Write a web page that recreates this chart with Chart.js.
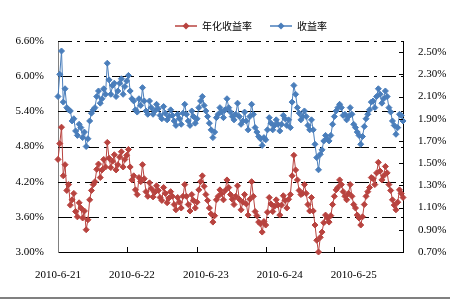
<!DOCTYPE html>
<html>
<head>
<meta charset="utf-8">
<script src="https://cdn.jsdelivr.net/npm/chart.js@4.4.0/dist/chart.umd.min.js"></script>
<style>
  html, body { margin: 0; padding: 0; background: #fff; }
  #wrap { width: 450px; height: 297px; border-bottom: 2px solid #808080; }
</style>
</head>
<body>
<div id="wrap"><canvas id="myChart"></canvas></div>
<script>
// Series, one point every ~1.76 px (40 per day)
const annualYield = [ // 年化收益率, left axis (%)
    4.58, 4.85, 5.13, 4.30, 4.49, 4.05, 4.15, 3.80, 3.89, 4.00,
    3.69, 3.60, 3.84, 3.75, 3.58, 3.70, 3.38, 3.55, 3.89, 4.05,
    4.15, 4.20, 4.41, 4.50, 4.27, 4.40, 4.58, 4.45, 4.87, 4.60,
    4.44, 4.55, 4.66, 4.40, 4.49, 4.62, 4.71, 4.45, 4.58, 4.65,
    4.75, 4.45, 4.23, 4.30, 4.06, 3.98, 4.27, 4.20, 4.49, 4.25,
    4.03, 3.95, 4.18, 4.08, 3.94, 4.02, 4.13, 4.05, 3.93, 3.88,
    4.10, 4.00, 3.84, 3.92, 4.03, 3.95, 3.81, 3.72, 3.93, 3.85,
    3.75, 3.95, 4.15, 3.95, 3.81, 3.70, 3.98, 3.88, 3.75, 3.85,
    4.06, 4.20, 4.30, 4.12, 3.98, 3.88, 3.75, 3.65, 3.51, 3.62,
    3.89, 3.95, 4.06, 4.00, 3.89, 4.05, 4.23, 4.10, 3.98, 3.90,
    3.81, 3.95, 4.13, 3.90, 3.72, 3.85, 3.98, 3.82, 3.63, 3.90,
    4.20, 3.95, 3.69, 3.62, 3.51, 3.48, 3.34, 3.52, 3.46, 3.68,
    3.93, 3.82, 3.69, 3.78, 3.89, 3.80, 3.63, 3.80, 3.96, 3.88,
    3.75, 3.90, 3.98, 4.30, 4.65, 4.40, 4.23, 4.05, 3.98, 4.00,
    4.15, 4.00, 3.81, 3.70, 3.93, 3.70, 3.46, 3.20, 3.00, 3.25,
    3.34, 3.50, 3.63, 3.58, 3.51, 3.62, 3.81, 3.95, 4.06, 4.10,
    4.23, 4.15, 4.03, 3.95, 3.89, 4.00, 4.15, 3.95, 3.81, 3.75,
    3.63, 3.58, 3.46, 3.60, 3.81, 3.95, 4.03, 4.10, 4.27, 4.25,
    4.15, 4.35, 4.53, 4.38, 4.23, 4.30, 4.46, 4.35, 4.15, 4.05,
    3.89, 3.80, 3.72, 3.85, 4.06, 4.00, 3.93
];
const yieldRate = [ // 收益率, right axis (%)
    2.10, 2.30, 2.51, 2.05, 2.17, 2.00, 1.98, 1.97, 1.88, 1.90,
    1.79, 1.75, 1.85, 1.82, 1.73, 1.78, 1.65, 1.72, 1.88, 1.95,
    1.98, 2.00, 2.10, 2.15, 2.04, 2.08, 2.17, 2.12, 2.40, 2.25,
    2.12, 2.20, 2.22, 2.10, 2.15, 2.22, 2.26, 2.12, 2.19, 2.24,
    2.29, 2.15, 2.08, 2.06, 1.98, 1.96, 2.08, 2.02, 2.18, 2.06,
    1.97, 1.94, 2.06, 2.00, 1.94, 1.97, 2.03, 1.99, 1.93, 1.90,
    2.01, 1.95, 1.89, 1.92, 1.98, 1.93, 1.88, 1.84, 1.94, 1.90,
    1.85, 1.95, 2.03, 1.94, 1.88, 1.84, 1.97, 1.92, 1.86, 1.90,
    2.00, 2.06, 2.10, 2.02, 1.97, 1.92, 1.86, 1.80, 1.73, 1.78,
    1.91, 1.94, 2.00, 1.96, 1.91, 1.98, 2.08, 2.00, 1.96, 1.92,
    1.89, 1.94, 2.04, 1.92, 1.85, 1.88, 1.96, 1.88, 1.80, 1.92,
    2.03, 1.94, 1.82, 1.78, 1.74, 1.72, 1.66, 1.73, 1.71, 1.80,
    1.91, 1.86, 1.80, 1.84, 1.89, 1.85, 1.79, 1.85, 1.93, 1.90,
    1.84, 1.89, 1.82, 2.05, 2.20, 2.12, 2.00, 1.95, 1.89, 1.92,
    1.97, 1.92, 1.84, 1.80, 1.89, 1.80, 1.67, 1.55, 1.44, 1.58,
    1.62, 1.70, 1.75, 1.72, 1.70, 1.75, 1.85, 1.92, 1.97, 2.00,
    2.03, 2.00, 1.93, 1.94, 1.89, 1.92, 2.00, 1.94, 1.85, 1.82,
    1.78, 1.75, 1.67, 1.74, 1.83, 1.90, 1.94, 1.98, 2.05, 2.06,
    2.00, 2.10, 2.17, 2.12, 2.04, 2.08, 2.15, 2.10, 2.00, 1.96,
    1.88, 1.84, 1.76, 1.82, 1.94, 1.93, 1.88
];

// Axis labels and ticks
const dayLabels = ['2010-6-21', '2010-6-22', '2010-6-23', '2010-6-24', '2010-6-25'];
const dayLabelIndex = [0, 42, 84, 126, 168];
const dayTickIndex = [39, 79, 118, 157];
const leftTicks = [3.0, 3.6, 4.2, 4.8, 5.4, 6.0, 6.6];
const rightTicks = [0.7, 0.9, 1.1, 1.3, 1.5, 1.7, 1.9, 2.1, 2.3, 2.5];

const RED = '#B8433F';
const BLUE = '#4A7EBB';
const tickFont = { family: "'Liberation Serif', serif", size: 11 };

// category labels: date text only at the labelled points
const categories = annualYield.map((v, i) => {
    const k = dayLabelIndex.indexOf(i);
    return k >= 0 ? dayLabels[k] : '';
});

// legend marker: short line with a diamond, like the spreadsheet legend
function legendMarker(color) {
    const c = document.createElement('canvas');
    c.width = 22;
    c.height = 8;
    const g = c.getContext('2d');
    g.strokeStyle = color;
    g.lineWidth = 1.5;
    g.beginPath();
    g.moveTo(0, 4);
    g.lineTo(22, 4);
    g.stroke();
    g.fillStyle = color;
    g.beginPath();
    g.moveTo(11, 0.5);
    g.lineTo(14.5, 4);
    g.lineTo(11, 7.5);
    g.lineTo(7.5, 4);
    g.closePath();
    g.fill();
    return c;
}

// dash-dot grid lines and tick marks that point into the plot area
const gridAndTicks = {
    id: 'gridAndTicks',
    beforeDatasetsDraw(chart) {
        const { ctx, chartArea, scales } = chart;
        ctx.save();
        ctx.strokeStyle = '#000';
        ctx.lineWidth = 1.2;
        ctx.setLineDash([14, 5, 3, 5]);
        leftTicks.forEach(v => {
            if (v === leftTicks[0]) return;
            const y = Math.round(scales.y.getPixelForValue(v)) + 0.5;
            ctx.beginPath();
            ctx.moveTo(chartArea.left, y);
            ctx.lineTo(chartArea.right, y);
            ctx.stroke();
        });
        ctx.restore();
    },
    afterDraw(chart) {
        const { ctx, chartArea, scales } = chart;
        ctx.save();
        ctx.strokeStyle = '#000';
        ctx.lineWidth = 1;
        ctx.beginPath();
        dayTickIndex.forEach(i => {
            const x = Math.round(scales.x.getPixelForValue(i)) + 0.5;
            ctx.moveTo(x, chartArea.bottom);
            ctx.lineTo(x, chartArea.bottom - 5);
        });
        rightTicks.forEach(v => {
            const y = Math.round(scales.y1.getPixelForValue(v)) + 0.5;
            ctx.moveTo(chartArea.right, y);
            ctx.lineTo(chartArea.right - 4, y);
        });
        ctx.stroke();
        ctx.restore();
    }
};

function lineSet(label, data, axis, color) {
    return {
        label: label,
        data: data,
        yAxisID: axis,
        borderColor: color,
        backgroundColor: color,
        borderWidth: 1,
        pointStyle: 'rectRot',
        pointRadius: 3,
        pointBorderWidth: 1,
        pointBackgroundColor: color,
        pointBorderColor: color,
        tension: 0,
        clip: false
    };
}

const ctx = document.getElementById('myChart').getContext('2d');
new Chart(ctx, {
    type: 'line',
    data: {
        labels: categories,
        datasets: [
            lineSet('年化收益率', annualYield, 'y', RED),
            lineSet('收益率', yieldRate, 'y1', BLUE)
        ]
    },
    options: {
        responsive: true,
        maintainAspectRatio: false,
        animation: false,
        // negative right padding pushes the legend's centre to the right, like the original
        layout: { padding: { left: 0, top: 3, right: -52, bottom: 0 } },
        plugins: {
            tooltip: { enabled: false },
            legend: {
                position: 'top',
                labels: {
                    usePointStyle: true,
                    pointStyleWidth: 22,
                    padding: 18,
                    color: '#000',
                    font: { family: "'Noto Sans CJK SC'", size: 10 },
                    generateLabels: chart => chart.data.datasets.map((ds, i) => ({
                        text: ds.label,
                        fillStyle: ds.borderColor,
                        strokeStyle: ds.borderColor,
                        lineWidth: 0,
                        pointStyle: legendMarker(ds.borderColor),
                        hidden: false,
                        datasetIndex: i,
                        fontColor: '#000'
                    }))
                }
            }
        },
        scales: {
            x: {
                type: 'category',
                grid: { display: false },
                border: { color: '#000', width: 1 },
                ticks: {
                    autoSkip: false,
                    maxRotation: 0,
                    minRotation: 0,
                    padding: 9,
                    color: '#000',
                    font: tickFont
                },
                afterFit: s => { s.height = 45; }
            },
            y: {
                position: 'left',
                min: 3.0,
                max: 6.6,
                afterBuildTicks: a => { a.ticks = leftTicks.map(v => ({ value: v })); },
                grid: { display: false },
                border: { color: '#808080' },
                ticks: {
                    padding: 6,
                    color: '#000',
                    font: tickFont,
                    callback: v => v.toFixed(2) + '%'
                },
                afterFit: s => { s.width = 58; }
            },
            y1: {
                position: 'right',
                min: 0.7,
                max: 2.6,
                afterBuildTicks: a => { a.ticks = rightTicks.map(v => ({ value: v })); },
                grid: { display: false },
                border: { color: '#000' },
                ticks: {
                    padding: 7,
                    color: '#000',
                    font: tickFont,
                    callback: v => v.toFixed(2) + '%'
                },
                afterFit: s => { s.width = 99; }
            }
        }
    },
    plugins: [gridAndTicks]
});
</script>
</body>
</html>
